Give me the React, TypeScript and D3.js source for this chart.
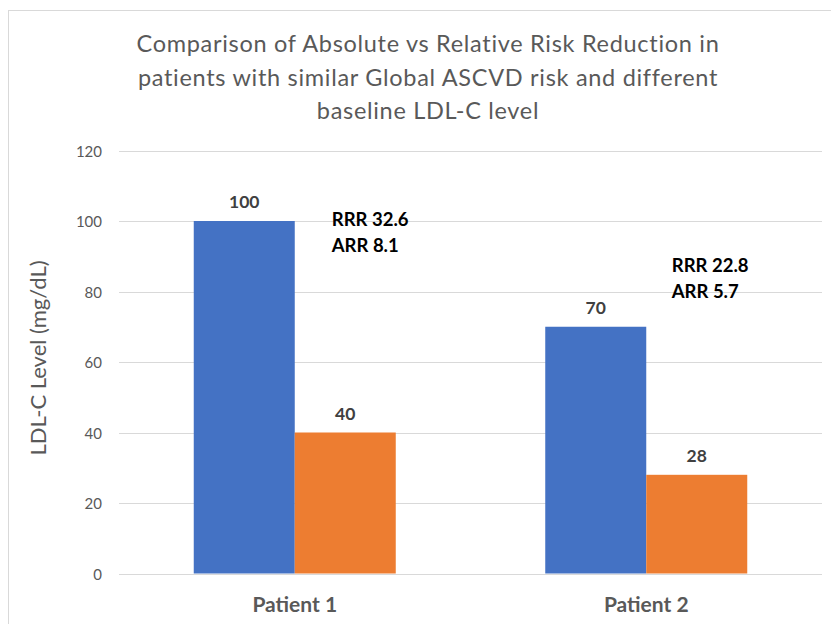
import React from "react";
import * as d3 from "d3";

const categories = ["Patient 1", "Patient 2"];
const seriesNames = ["Baseline", "Treated"];
const baseline = [100, 70];
const treated = [40, 28];
const annotations = [
  ["RRR 32.6", "ARR 8.1"],
  ["RRR 22.8", "ARR 5.7"],
];
const annotationLevels = [98.5, 85.4];
const yTicks = [0, 20, 40, 60, 80, 100, 120];
const titleLines = [
  "Comparison of Absolute vs Relative Risk Reduction in",
  "patients with similar Global ASCVD risk and different",
  "baseline LDL-C level",
];
const colors = ["#4472C4", "#ED7D31"];

export default function App() {
  const W = 831, H = 624;
  const left = 119, right = 822, top = 150.5, bottom = 573.5;
  const x = d3.scaleBand<string>().domain(categories).range([left, right]);
  const y = d3.scaleLinear().domain([0, 120]).range([bottom, top]);
  const barW = 101;
  const font = "Lato, 'Open Sans', sans-serif";
  const series = [baseline, treated];
  const annDx = [37, 25.5];
  return (
    <svg width={W} height={H} style={{ position: "absolute", left: 0, top: 0 }} fontFamily={font}>
      <rect x={0} y={0} width={W} height={H} fill="#fff" />
      <rect x={8.5} y={10.5} width={900} height={700} fill="none" stroke="#d9d9d9" />
      {titleLines.map((t, i) => (
        <text key={i} x={428} y={52 + i * 33.5} textAnchor="middle" fontSize={23.5} letterSpacing={0.7} fill="#595959">{t}</text>
      ))}
      {yTicks.map((t) => (
        <g key={t}>
          <line x1={left} x2={right} y1={Math.round(y(t)) + 0.5} y2={Math.round(y(t)) + 0.5} stroke="#d9d9d9" />
          <text x={102} y={y(t) + 6} textAnchor="end" fontSize={15} fill="#595959">{t}</text>
        </g>
      ))}
      <text transform={`translate(46,358) rotate(-90)`} textAnchor="middle" fontSize={22} fill="#595959">LDL-C Level (mg/dL)</text>
      {categories.map((c, ci) => {
        const cx = (x(c) as number) + x.bandwidth() / 2;
        return (
          <g key={c}>
            {series.map((s, si) => {
              const bx = cx - barW + si * barW;
              return (
                <g key={si}>
                  <rect x={bx} y={y(s[ci])} width={barW} height={bottom - y(s[ci])} fill={colors[si]}>
                    <title>{seriesNames[si]}</title>
                  </rect>
                  <text x={bx + barW / 2} y={y(s[ci]) - 13} textAnchor="middle" fontSize={17.5} fontWeight="bold" fill="#404040">{s[ci]}</text>
                </g>
              );
            })}
            {annotations[ci].map((a, ai) => (
              <text key={ai} x={cx + annDx[ci]} y={y(annotationLevels[ci]) + ai * 26} fontSize={18.5} fontWeight="bold" fill="#000">{a}</text>
            ))}
            <text x={cx} y={612} textAnchor="middle" fontSize={21} fontWeight="bold" fill="#595959">{c}</text>
          </g>
        );
      })}
    </svg>
  );
}
